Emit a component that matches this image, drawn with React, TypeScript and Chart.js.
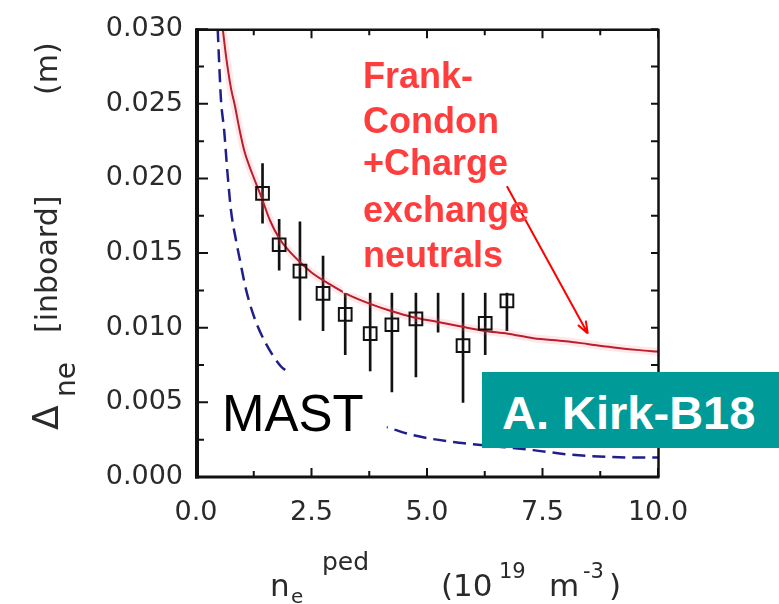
import React, { useEffect, useRef } from 'react';
import { Chart, registerables } from 'chart.js';

Chart.register(...registerables);

// ---- Data ----
// Frank-Condon + charge exchange neutrals model (red solid)
const redX = [0.58, 0.65, 0.76, 0.84, 0.94, 1.05, 1.22, 1.41, 1.6, 1.8, 2.0, 2.25, 2.5, 2.9, 3.3, 3.77, 4.24, 4.7, 5.21, 5.71, 6.22, 6.75, 7.3, 8.0, 8.5, 9.0, 9.6, 10.0];
const redY = [0.0300, 0.0282, 0.0260, 0.0249, 0.0233, 0.0218, 0.0203, 0.0188, 0.0172, 0.0160, 0.0152, 0.0144, 0.0137, 0.0129, 0.0122, 0.0116, 0.0111, 0.0107, 0.0104, 0.0101, 0.0098, 0.0096, 0.0093, 0.0091, 0.0089, 0.0087, 0.0085, 0.0084];

// Frank-Condon only model (blue dashed)
const blueX = [0.47, 0.505, 0.54, 0.61, 0.686, 0.76, 0.87, 0.94, 1.08, 1.26, 1.52, 1.84, 1.96, 2.5, 3.0, 3.5, 4.16, 4.7, 5.43, 6.0, 7.3, 8.1, 9.6, 10.0];
const blueY = [0.0300, 0.0275, 0.0253, 0.0232, 0.0202, 0.0178, 0.0158, 0.0147, 0.0126, 0.0107, 0.0089, 0.0074, 0.0071, 0.0055, 0.0046, 0.0038, 0.0033, 0.0028, 0.0024, 0.0022, 0.0018, 0.0015, 0.0013, 0.0013];

// MAST measurements (squares with error bars)
const obsX = [1.44, 1.80, 2.25, 2.75, 3.23, 3.77, 4.24, 4.76, 5.24, 5.78, 6.26, 6.73];
const obsY = [0.0190, 0.01556, 0.0138, 0.0123, 0.0109, 0.0096, 0.0102, 0.0106, 0.0135, 0.0088, 0.0103, 0.0118];
const obsErr = [0.0020, 0.0017, 0.0033, 0.0025, 0.0027, 0.0035, 0.0045, 0.0039, 0.0038, 0.0038, 0.0021, 0.0020];

// Axes
const xMin = 0, xMax = 10, xStep = 2.5;
const yMin = 0, yMax = 0.03, yStep = 0.005;

// Annotation geometry (in data units)
const labelBoxX = [3.18, 7.34];
const labelBoxY = [0.01234, 0.0305];
const mastBoxX = [0.09, 4.13];
const mastBoxY = [0.00156, 0.00708];
const arrowFrom = [6.73, 0.01948];
const arrowTo = [8.48, 0.00961];

const overlayPlugin = {
  id: 'overlay',
  afterDatasetsDraw(chart: any) {
    const { ctx, scales, chartArea } = chart;
    const x = scales.x, y = scales.y;
    ctx.save();
    // white boxes behind the text annotations
    ctx.fillStyle = '#ffffff';
    const rect = (bx: number[], by: number[]) => {
      const l = x.getPixelForValue(bx[0]);
      const r = x.getPixelForValue(bx[1]);
      const t = y.getPixelForValue(by[1]);
      const b = y.getPixelForValue(by[0]);
      ctx.fillRect(l, t, r - l, b - t);
    };
    rect(labelBoxX, labelBoxY);
    rect(mastBoxX, mastBoxY);

    // arrow
    const ax0 = x.getPixelForValue(arrowFrom[0]);
    const ay0 = y.getPixelForValue(arrowFrom[1]);
    const ax1 = x.getPixelForValue(arrowTo[0]);
    const ay1 = y.getPixelForValue(arrowTo[1]);
    ctx.strokeStyle = '#ff0000';
    ctx.lineWidth = 2;
    ctx.beginPath();
    ctx.moveTo(ax0, ay0);
    ctx.lineTo(ax1, ay1);
    const ang = Math.atan2(ay1 - ay0, ax1 - ax0);
    const hl = 13;
    ctx.moveTo(ax1, ay1);
    ctx.lineTo(ax1 - hl * Math.cos(ang - 0.35), ay1 - hl * Math.sin(ang - 0.35));
    ctx.moveTo(ax1, ay1);
    ctx.lineTo(ax1 - hl * Math.cos(ang + 0.35), ay1 - hl * Math.sin(ang + 0.35));
    ctx.stroke();

    // frame
    const { left, right, top, bottom } = chartArea;
    ctx.strokeStyle = '#111';
    ctx.lineWidth = 4;
    ctx.beginPath();
    ctx.moveTo(left + 1, top - 1);
    ctx.lineTo(left + 1, bottom + 1.5);
    ctx.stroke();
    ctx.lineWidth = 3;
    ctx.beginPath();
    ctx.moveTo(left - 1, bottom);
    ctx.lineTo(right + 1.5, bottom);
    ctx.stroke();
    ctx.lineWidth = 2.5;
    ctx.beginPath();
    ctx.moveTo(left, top + 0.5);
    ctx.lineTo(right + 1.5, top + 0.5);
    ctx.moveTo(right + 0.5, top);
    ctx.lineTo(right + 0.5, bottom);
    ctx.stroke();

    // inward tick marks (major + minor)
    ctx.lineWidth = 2;
    ctx.beginPath();
    const nx = Math.round((xMax - xMin) / (xStep / 2));
    for (let i = 0; i <= nx; i++) {
      const v = xMin + i * xStep / 2;
      const px = x.getPixelForValue(v);
      const len = i % 2 === 0 ? 9 : 6;
      ctx.moveTo(px, bottom);
      ctx.lineTo(px, bottom - len);
      ctx.moveTo(px, top);
      ctx.lineTo(px, top + len);
    }
    const ny = Math.round((yMax - yMin) / (yStep / 2));
    for (let i = 0; i <= ny; i++) {
      const v = yMin + i * yStep / 2;
      const py = y.getPixelForValue(v);
      const len = i % 2 === 0 ? 10 : 6;
      ctx.moveTo(left, py);
      ctx.lineTo(left + len + 2, py);
      ctx.moveTo(right, py);
      ctx.lineTo(right - 7, py);
    }
    ctx.stroke();
    ctx.restore();
  },
};

const T = ({ x, base, size, family = 'DejaVu Sans', weight = 400, color = '#2a2a2a', children }: any) => {
  const k = family.startsWith('DejaVu') ? 0.846 : 0.8305;
  return (
    <div
      style={{
        position: 'absolute',
        left: x,
        top: base - k * size,
        fontFamily: family,
        fontSize: size,
        lineHeight: `${size}px`,
        fontWeight: weight,
        color,
        whiteSpace: 'pre',
      }}
    >
      {children}
    </div>
  );
};

export default function App() {
  const ref = useRef<HTMLCanvasElement | null>(null);

  useEffect(() => {
    if (!ref.current) return;
    const tickFont = { family: 'DejaVu Sans', size: 27 };
    const chart = new Chart(ref.current, {
      type: 'scatter',
      data: {
        datasets: [
          {
            type: 'scatter',
            label: 'MAST data',
            data: obsX.map((v, i) => ({ x: v, y: obsY[i] })),
            pointStyle: 'rect',
            pointRadius: 9,
            pointBorderWidth: 2,
            borderColor: '#111',
            backgroundColor: 'rgba(0,0,0,0)',
            order: 0,
          } as any,
          {
            type: 'line',
            label: 'FC + CX',
            data: redX.map((v, i) => ({ x: v, y: redY[i] })),
            borderColor: '#b81f2b',
            borderWidth: 2,
            pointRadius: 0,
            cubicInterpolationMode: 'monotone',
            fill: false,
            order: 1,
          } as any,
          {
            type: 'line',
            label: 'FC + CX halo',
            data: redX.map((v, i) => ({ x: v, y: redY[i] })),
            borderColor: 'rgba(255,120,140,0.18)',
            borderWidth: 8,
            pointRadius: 0,
            cubicInterpolationMode: 'monotone',
            fill: false,
            order: 2,
          } as any,
          {
            type: 'line',
            label: 'FC',
            data: blueX.map((v, i) => ({ x: v, y: blueY[i] })),
            borderColor: '#1f1f8a',
            borderWidth: 2.5,
            borderDash: [13, 7],
            pointRadius: 0,
            cubicInterpolationMode: 'monotone',
            fill: false,
            order: 3,
          } as any,
          {
            type: 'bar',
            label: 'error',
            data: obsX.map((v, i) => ({ x: v, y: [obsY[i] - obsErr[i], obsY[i] + obsErr[i]] })),
            backgroundColor: '#111',
            borderWidth: 0,
            barThickness: 2,
            order: 4,
          } as any,
        ],
      },
      options: {
        responsive: false,
        animation: false,
        devicePixelRatio: 1,
        layout: { padding: { top: 15, right: 121, left: 0, bottom: 0 } },
        plugins: { legend: { display: false }, tooltip: { enabled: false } },
        scales: {
          x: {
            type: 'linear',
            min: xMin,
            max: xMax,
            offset: false,
            position: 'bottom',
            ticks: {
              stepSize: xStep,
              callback: (v: any) => Number(v).toFixed(1),
              font: tickFont,
              color: '#2a2a2a',
              padding: 20,
              maxRotation: 0,
              autoSkip: false,
            },
            grid: { display: false, drawTicks: false },
            border: { display: false },
            afterFit: (s: any) => {
              s.height = 127;
            },
          },
          y: {
            type: 'linear',
            min: yMin,
            max: yMax,
            position: 'left',
            ticks: {
              stepSize: yStep,
              callback: (v: any) => Number(v).toFixed(3),
              font: tickFont,
              color: '#2a2a2a',
              padding: 13,
              autoSkip: false,
            },
            grid: { display: false, drawTicks: false },
            border: { display: false },
            afterFit: (s: any) => {
              s.width = 196;
            },
          },
        },
      } as any,
      plugins: [overlayPlugin],
    });
    return () => chart.destroy();
  }, []);

  return (
    <div style={{ position: 'fixed', left: 0, top: 0, width: 779, height: 604, background: '#fff', overflow: 'hidden' }}>
      <canvas ref={ref} width={779} height={604} style={{ position: 'absolute', left: 0, top: 0 }} />

      {/* y-axis title, rotated */}
      <div style={{ position: 'absolute', left: 0, top: 604, width: 604, height: 100, transform: 'rotate(-90deg)', transformOrigin: '0 0' }}>
        <T x={174} base={58} size={36}>Δ</T>
        <T x={207} base={76} size={28}>ne</T>
        <T x={271} base={57} size={30}>[inboard]</T>
        <T x={509} base={57} size={30}>(m)</T>
      </div>

      {/* x-axis title */}
      <T x={270} base={596} size={31}>n</T>
      <T x={291} base={603} size={20}>e</T>
      <T x={322} base={570} size={25}>ped</T>
      <T x={441} base={596} size={31}>(10</T>
      <T x={499} base={579} size={21}>19</T>
      <T x={549} base={596} size={31}>m</T>
      <T x={583} base={579} size={21}>-3</T>
      <T x={609} base={596} size={31}>)</T>

      {/* red annotation */}
      <T x={363} base={88} size={36} family="Liberation Sans, Arial, sans-serif" weight={700} color="#ff3d3d">Frank-</T>
      <T x={363} base={133} size={36} family="Liberation Sans, Arial, sans-serif" weight={700} color="#ff3d3d">Condon</T>
      <T x={363} base={175} size={36} family="Liberation Sans, Arial, sans-serif" weight={700} color="#ff3d3d">+Charge</T>
      <T x={363} base={222} size={36} family="Liberation Sans, Arial, sans-serif" weight={700} color="#ff3d3d">exchange</T>
      <T x={363} base={267} size={36} family="Liberation Sans, Arial, sans-serif" weight={700} color="#ff3d3d">neutrals</T>

      {/* MAST label */}
      <T x={222} base={430} size={51} family="Liberation Sans, Arial, sans-serif" color="#000">MAST</T>

      {/* teal tag */}
      <div style={{ position: 'absolute', left: 482, top: 372, width: 297, height: 76, background: '#009a99' }} />
      <T x={502} base={428} size={47} family="Liberation Sans, Arial, sans-serif" weight={700} color="#ffffff">A. Kirk-B18</T>
    </div>
  );
}
